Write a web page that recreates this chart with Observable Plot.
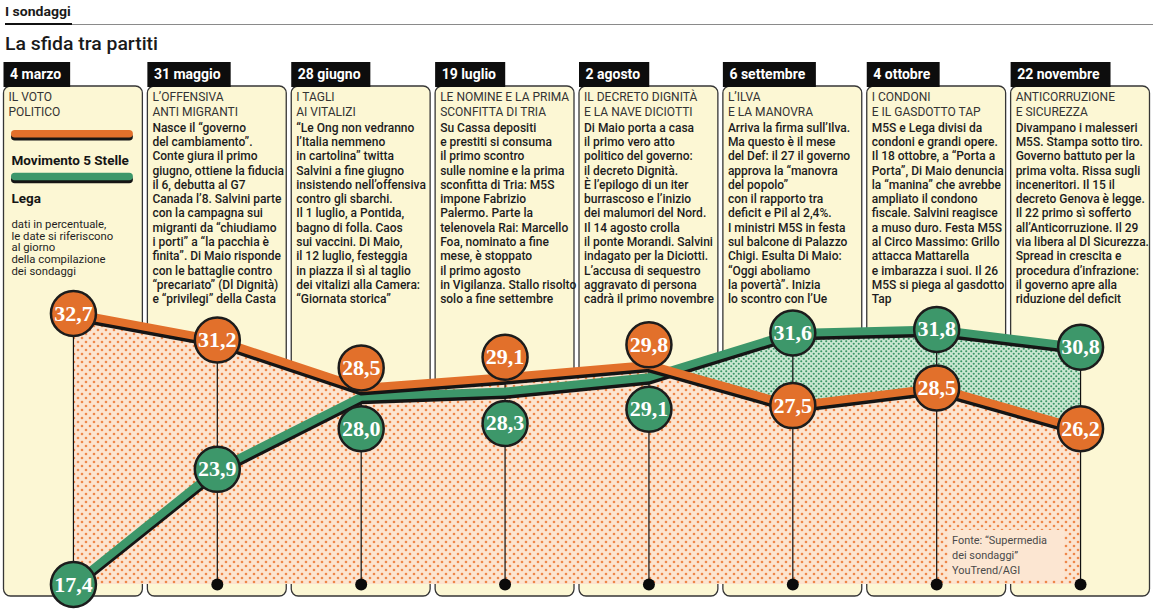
<!DOCTYPE html>
<html><head><meta charset="utf-8">
<script src="https://cdn.jsdelivr.net/npm/d3@7"></script>
<script src="https://cdn.jsdelivr.net/npm/@observablehq/plot@0.6"></script>
<style>
html,body{margin:0;padding:0;background:#fff;}
#wrap{position:relative;width:1153px;height:614px;overflow:hidden;font-family:Roboto,sans-serif;}
#wrap svg{position:absolute;left:0;top:0;}
.hd{position:absolute;white-space:nowrap;transform-origin:0 0;color:#1a1a1a;z-index:2;}
#kicker{left:5px;top:5px;font:700 13px/13px Roboto;}
#title{left:5px;top:34px;font:500 19px/19px Roboto;}
#gline{position:absolute;left:5px;top:24px;width:1148px;height:1.3px;background:#8a8a8a;z-index:2;}
#kline{position:absolute;left:5px;top:22.5px;width:67px;height:2.6px;background:#111;z-index:3;}
#fonte{position:absolute;left:948px;top:530px;width:116px;height:50px;background:#fce6d2;z-index:2;}
#fonte .in{position:absolute;left:4px;top:3px;font:400 11px/15px Roboto;color:#4a4a4a;white-space:nowrap;transform-origin:0 0;}
</style></head><body>
<div id="wrap">
  <div id="gline"></div><div id="kline"></div>
  <div id="kicker" class="hd"></div>
  <div id="title" class="hd"></div>
  <div id="fonte"><div class="in"></div></div>
</div>
<script>
// ---------- DATA ----------
const kicker = "I sondaggi";
const chartTitle = "La sfida tra partiti";
const dates = ["4 marzo","31 maggio","28 giugno","19 luglio","2 agosto","6 settembre","4 ottobre","22 novembre"];
const m5s  = [32.7, 31.2, 28.5, 29.1, 29.8, 27.5, 28.5, 26.2];
const lega = [17.4, 23.9, 28.0, 28.3, 29.1, 31.6, 31.8, 30.8];
const seriesNames = ["Movimento 5 Stelle", "Lega"];
const titles = [
  "IL VOTO\nPOLITICO",
  "L’OFFENSIVA\nANTI MIGRANTI",
  "I TAGLI\nAI VITALIZI",
  "LE NOMINE E LA PRIMA\nSCONFITTA DI TRIA",
  "IL DECRETO DIGNITÀ\nE LA NAVE DICIOTTI",
  "L’ILVA\nE LA MANOVRA",
  "I CONDONI\nE IL GASDOTTO TAP",
  "ANTICORRUZIONE\nE SICUREZZA"
];
const bodies = [
  [],
  ["Nasce il “governo","del cambiamento”.","Conte giura il primo","giugno, ottiene la fiducia","il 6, debutta al G7","Canada l’8. Salvini parte","con la campagna sui","migranti da “chiudiamo","i porti” a “la pacchia è","finita”. Di Maio risponde","con le battaglie contro","“precariato” (Dl Dignità)","e “privilegi” della Casta"],
  ["“Le Ong non vedranno","l’Italia nemmeno","in cartolina” twitta","Salvini a fine giugno","insistendo nell’offensiva","contro gli sbarchi.","Il 1 luglio, a Pontida,","bagno di folla. Caos","sui vaccini. Di Maio,","il 12 luglio, festeggia","in piazza il sì al taglio","dei vitalizi alla Camera:","“Giornata storica”"],
  ["Su Cassa depositi","e prestiti si consuma","il primo scontro","sulle nomine e la prima","sconfitta di Tria: M5S","impone Fabrizio","Palermo. Parte la","telenovela Rai: Marcello","Foa, nominato a fine","mese, è stoppato","il primo agosto","in Vigilanza. Stallo risolto","solo a fine settembre"],
  ["Di Maio porta a casa","il primo vero atto","politico del governo:","il decreto Dignità.","È l’epilogo di un iter","burrascoso e l’inizio","dei malumori del Nord.","Il 14 agosto crolla","il ponte Morandi. Salvini","indagato per la Diciotti.","L’accusa di sequestro","aggravato di persona","cadrà il primo novembre"],
  ["Arriva la firma sull’Ilva.","Ma questo è il mese","del Def: il 27 il governo","approva la “manovra","del popolo”","con il rapporto tra","deficit e Pil al 2,4%.","I ministri M5S in festa","sul balcone di Palazzo","Chigi. Esulta Di Maio:","“Oggi aboliamo","la povertà”. Inizia","lo scontro con l’Ue"],
  ["M5S e Lega divisi da","condoni e grandi opere.","Il 18 ottobre, a “Porta a","Porta”, Di Maio denuncia","la “manina” che avrebbe","ampliato il condono","fiscale. Salvini reagisce","a muso duro. Festa M5S","al Circo Massimo: Grillo","attacca Mattarella","e imbarazza i suoi. Il 26","M5S si piega al gasdotto","Tap"],
  ["Divampano i malesseri","M5S. Stampa sotto tiro.","Governo battuto per la","prima volta. Rissa sugli","inceneritori. Il 15 il","decreto Genova è legge.","Il 22 primo sì sofferto","all’Anticorruzione. Il 29","via libera al Dl Sicurezza.","Spread in crescita e","procedura d’infrazione:","il governo apre alla","riduzione del deficit"]
];
const noteText = ["dati in percentuale,","le date si riferiscono","al giorno","della compilazione","dei sondaggi"];
const sourceText = ["Fonte: “Supermedia","dei sondaggi”","YouTrend/AGI"];

// ---------- STYLE ----------
const colors = {m5s: "#e2702b", lega: "#3d976a"};
const F = "Roboto";
const fonts = {
  body: `500 12px ${F}`, title: `400 12px ${F}`, date: `700 14px ${F}`,
  legend: `700 13.5px ${F}`, note: `400 11.3px ${F}`, head: `500 19px ${F}`,
  kicker: `700 13px ${F}`, src: `400 11px ${F}`
};
const ctx = document.createElement("canvas").getContext("2d");
const measure = (s, font) => { ctx.font = font; return ctx.measureText(s).width; };
const clampK = k => Math.max(0.66, Math.min(1.08, isFinite(k) ? k : 1));
const kBody = clampK(132 / measure(bodies[3][11], fonts.body));
const kTitle = clampK(132 / measure(titles[3].split("\n")[0], fonts.title));
const kDate = clampK(81 / measure(dates[5], fonts.date));
const kLeg = clampK(122 / measure(seriesNames[0], fonts.legend));
const kNote = clampK(122 / measure(noteText[1], fonts.note));
const kHead = clampK(153 / measure(chartTitle, fonts.head));
const kKick = clampK(67 / measure(kicker, fonts.kicker));
const kSrc = clampK(95 / measure(sourceText[0], fonts.src));

// ---------- DERIVED ----------
const rows = dates.map((date, i) => ({i, date, m5s: m5s[i], lega: lega[i], title: titles[i], body: bodies[i].join("\n")}));
const all = [...m5s, ...lega];
const yMin = d3.min(all), yMax = d3.max(all);
const W = 1153, H = 614;
const PX = (W - 2) / dates.length;
const fmt = v => v.toFixed(1).replace(".", ",");
const labels = rows.flatMap(d => {
  const close = Math.abs(d.m5s - d.lega) < 1.5;
  const hiM = d.m5s >= d.lega;
  return [
    {i: d.i, v: d.m5s, party: "m5s", shift: close ? (hiM ? "up" : "down") : "none"},
    {i: d.i, v: d.lega, party: "lega", shift: close ? (hiM ? "down" : "up") : "none"}
  ];
});
const shiftPx = {none: 0, up: -20, down: 32};
const datePad = 6;
const dateW = s => measure(s, fonts.date) * kDate + 2 * datePad;

const legendMarks = seriesNames.flatMap((name, k) => {
  const top = 130 + k * 42.7;
  const col = k === 0 ? colors.m5s : colors.lega;
  return [
    Plot.rect([name], {x1: -0.5, x2: 0.5, insetLeft: 10, insetRight: 12, insetTop: top + 3, insetBottom: H - (top + 10.5), fill: "#151515", rx: 3.75}),
    Plot.rect([name], {x1: -0.5, x2: 0.5, insetLeft: 10, insetRight: 12, insetTop: top, insetBottom: H - (top + 7.5), fill: col, rx: 3.75}),
    Plot.text([name], {x: -0.5, dx: 10, frameAnchor: "top", dy: 160 + k * 38.5, text: d => d, textAnchor: "start", lineAnchor: "middle", fontFamily: F, fontWeight: 700, fontSize: 13.5, fill: "#151515", ariaLabel: "legendtext"})
  ];
});

const labelMarks = Object.entries(shiftPx).flatMap(([key, dy]) => {
  const data = labels.filter(l => l.shift === key);
  return [
    Plot.dot(data, {x: "i", y: "v", dy, r: 22.5, fill: l => colors[l.party], stroke: "#1c1c1c", strokeWidth: 2.5}),
    Plot.text(data, {x: "i", y: "v", dy, text: l => fmt(l.v), fill: "white", fontFamily: "Liberation Serif", fontWeight: 700, fontSize: 22, lineAnchor: "middle"})
  ];
});

const plot = Plot.plot({
  width: W, height: H, margin: 0,
  x: {type: "linear", domain: [-0.5, dates.length - 0.5], range: [1, W - 1], axis: null},
  y: {domain: [yMin, yMax], range: [584, 313], axis: null},
  color: {type: "identity"},
  style: {background: "transparent", overflow: "visible"},
  marks: [
    // panels
    Plot.rect(rows, {x1: d => d.i - 0.5, x2: d => d.i + 0.5, insetLeft: 2.5, insetRight: 2.5, insetTop: 86, insetBottom: H - 596, fill: "#fcf7d4", stroke: "#363636", strokeWidth: 1.3, rx: 7}),
    // date boxes
    Plot.rect(rows, {x1: d => d.i - 0.5, x2: d => d.i - 0.5 + (2.5 + dateW(d.date)) / PX, insetLeft: 2.5, insetTop: 62, insetBottom: H - 87, fill: "#0d0d0d"}),
    Plot.text(rows, {x: d => d.i - 0.5, dx: 2.5 + datePad, frameAnchor: "top", dy: 74, text: "date", textAnchor: "start", lineAnchor: "middle", fill: "white", fontFamily: F, fontWeight: 700, fontSize: 14, ariaLabel: "datetext"}),
    // panel titles
    Plot.text(rows, {x: d => d.i - 0.5, dx: 7, frameAnchor: "top", dy: 90.5, text: "title", textAnchor: "start", lineAnchor: "top", lineHeight: 14.5 / 12, fill: "#333", fontFamily: F, fontWeight: 400, fontSize: 12, ariaLabel: "titles"}),
    // panel bodies
    Plot.text(rows.filter(d => d.body), {x: d => d.i - 0.5, dx: 7, frameAnchor: "top", dy: 121, text: "body", textAnchor: "start", lineAnchor: "top", lineHeight: 14.3 / 12, fill: "#1c1c1c", fontFamily: F, fontWeight: 500, fontSize: 12, ariaLabel: "body"}),
    // legend
    ...legendMarks,
    Plot.text([noteText.join("\n")], {x: -0.5, dx: 10, frameAnchor: "top", dy: 219.5, text: d => d, textAnchor: "start", lineAnchor: "top", lineHeight: 11.6 / 11.3, fill: "#1e1e1e", fontFamily: F, fontWeight: 400, fontSize: 11.3, ariaLabel: "note"}),
    // areas
    Plot.areaY(rows, {x: "i", y1: yMin, y2: "lega", fill: "url(#dotsG)"}),
    Plot.areaY(rows, {x: "i", y1: yMin, y2: "m5s", fill: "url(#dotsO)"}),
    // verticals & base dots
    Plot.ruleX(rows, {x: "i", y1: d => Math.max(d.m5s, d.lega), y2: yMin, stroke: "#111", strokeWidth: 1.2}),
    Plot.dot(rows, {x: "i", y: yMin, r: 6, fill: "#0b0b0b"}),
    // lines
    Plot.line(rows, {x: "i", y: "lega", stroke: "#151515", strokeWidth: 8, dy: 3.5, strokeLinejoin: "round"}),
    Plot.line(rows, {x: "i", y: "lega", stroke: colors.lega, strokeWidth: 8, strokeLinejoin: "round"}),
    Plot.line(rows, {x: "i", y: "m5s", stroke: "#151515", strokeWidth: 8, dy: 3.5, strokeLinejoin: "round"}),
    Plot.line(rows, {x: "i", y: "m5s", stroke: colors.m5s, strokeWidth: 8, strokeLinejoin: "round"}),
    // value circles
    ...labelMarks
  ]
});

// patterns
const defs = d3.select(plot).insert("defs", ":first-child");
const po = defs.append("pattern").attr("id", "dotsO").attr("patternUnits", "userSpaceOnUse").attr("width", 8).attr("height", 8);
po.append("rect").attr("width", 8).attr("height", 8).attr("fill", "#fce4cf");
po.append("circle").attr("cx", 2).attr("cy", 2).attr("r", 1.3).attr("fill", "#ee874a");
po.append("circle").attr("cx", 6).attr("cy", 6).attr("r", 1.3).attr("fill", "#ee874a");
const pg = defs.append("pattern").attr("id", "dotsG").attr("patternUnits", "userSpaceOnUse").attr("width", 5).attr("height", 5);
pg.append("rect").attr("width", 5).attr("height", 5).attr("fill", "#cae7d1");
pg.append("circle").attr("cx", 1.25).attr("cy", 1.25).attr("r", 1.05).attr("fill", "#3a9566");
pg.append("circle").attr("cx", 3.75).attr("cy", 3.75).attr("r", 1.05).attr("fill", "#3a9566");

// horizontal condensing of text (to mimic condensed typeface)
function condense(label, k) {
  d3.select(plot).selectAll(`g[aria-label="${label}"] text`).each(function () {
    const t = d3.select(this);
    let tr = t.attr("transform");
    if (!tr) {
      const x = +t.attr("x") || 0, y = t.attr("y");
      tr = `translate(${x},${isNaN(+y) ? 0 : +y})`;
      t.attr("x", null);
      if (!isNaN(+y)) t.attr("y", null);
    }
    t.attr("transform", `${tr} scale(${k},1)`);
  });
}
condense("body", kBody);
condense("titles", kTitle);
condense("datetext", kDate);
condense("legendtext", kLeg);
condense("note", kNote);

const wrap = document.getElementById("wrap");
wrap.insertBefore(plot, wrap.firstChild);

// header & source
const kEl = document.getElementById("kicker");
kEl.textContent = kicker; kEl.style.transform = `scaleX(${kKick})`;
const tEl = document.getElementById("title");
tEl.textContent = chartTitle; tEl.style.transform = `scaleX(${kHead})`;
const sEl = document.querySelector("#fonte .in");
sourceText.forEach((s, j) => { if (j) sEl.appendChild(document.createElement("br")); sEl.appendChild(document.createTextNode(s)); });
sEl.style.transform = `scaleX(${kSrc})`;
</script>
</body></html>
